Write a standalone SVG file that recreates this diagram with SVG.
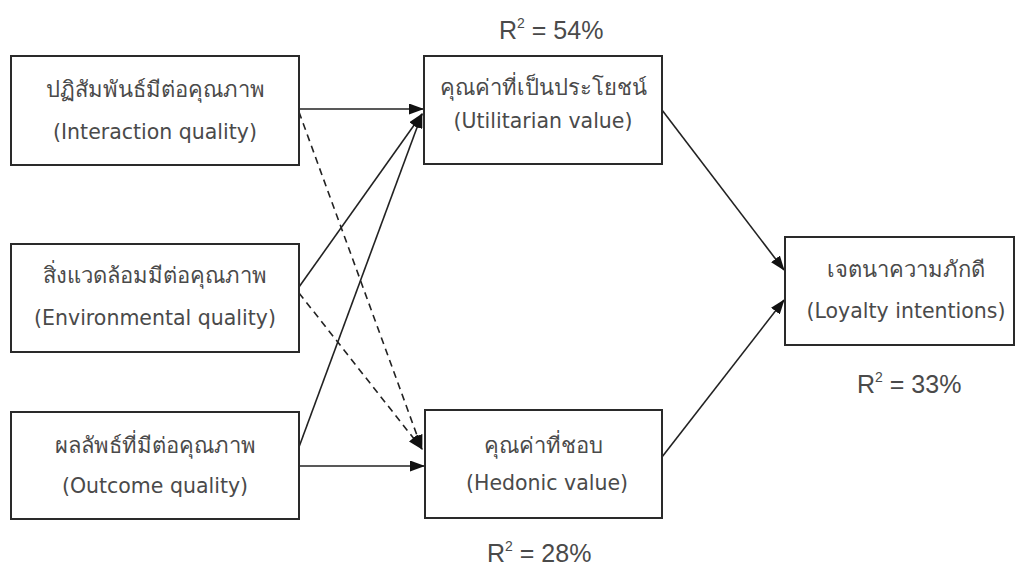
<svg xmlns="http://www.w3.org/2000/svg" width="1022" height="567" viewBox="0 0 1022 567">
<style>
.box{fill:#fff;stroke:#2a2a2a;stroke-width:2}
.t{font-family:"DejaVu Sans","Noto Sans",sans-serif;font-size:20.5px;fill:#4a4a4a;text-anchor:middle}
.th{font-size:22px}
.r{font-family:"Liberation Sans",Arial,sans-serif;font-size:25px;fill:#4a4a4a}
.sup{font-size:14px}
.ln{stroke:#222;stroke-width:1.6;fill:none;marker-end:url(#ah)}
.dash{stroke-dasharray:7,5}
</style>
<defs>
<marker id="ah" markerUnits="userSpaceOnUse" markerWidth="15" markerHeight="11" refX="14" refY="5.5" orient="auto">
<path d="M0,0 L15,5.5 L0,11 z" fill="#111"/>
</marker>
</defs>
<rect width="1022" height="567" fill="#fff"/>
<g id="connectors">
<line class="ln" x1="299" y1="109" x2="423" y2="109"/>
<line class="ln" x1="299" y1="287" x2="422" y2="114"/>
<line class="ln" x1="299" y1="447" x2="422" y2="114"/>
<line class="ln dash" x1="299" y1="112" x2="422" y2="449"/>
<line class="ln dash" x1="299" y1="293" x2="422" y2="449"/>
<line class="ln" x1="299" y1="466" x2="424" y2="466"/>
<line class="ln" x1="662" y1="110" x2="784" y2="270"/>
<line class="ln" x1="662" y1="457" x2="784" y2="300"/>
</g>
<g id="interaction">
<rect class="box" x="11" y="56" width="288" height="109"/>
<text class="t th" x="155" y="97">ปฏิสัมพันธ์มีต่อคุณภาพ</text>
<text class="t" x="155" y="139">(Interaction quality)</text>
</g>
<g id="environmental">
<rect class="box" x="11" y="244" width="288" height="108"/>
<text class="t th" x="155" y="283">สิ่งแวดล้อมมีต่อคุณภาพ</text>
<text class="t" x="155" y="325">(Environmental quality)</text>
</g>
<g id="outcome">
<rect class="box" x="11" y="412" width="288" height="107"/>
<text class="t th" x="155" y="453">ผลลัพธ์ที่มีต่อคุณภาพ</text>
<text class="t" x="155" y="493">(Outcome quality)</text>
</g>
<g id="utilitarian">
<rect class="box" x="424" y="56" width="238" height="108"/>
<text class="t th" x="543" y="95">คุณค่าที่เป็นประโยชน์</text>
<text class="t" x="543" y="128">(Utilitarian value)</text>
<text class="r" x="499" y="39">R<tspan class="sup" dy="-11">2</tspan><tspan dy="11"> = 54%</tspan></text>
</g>
<g id="hedonic">
<rect class="box" x="425" y="410" width="237" height="108"/>
<text class="t th" x="543" y="453">คุณค่าที่ชอบ</text>
<text class="t" x="547" y="490">(Hedonic value)</text>
<text class="r" x="487" y="562">R<tspan class="sup" dy="-11">2</tspan><tspan dy="11"> = 28%</tspan></text>
</g>
<g id="loyalty">
<rect class="box" x="785" y="237" width="229" height="108"/>
<text class="t th" x="906" y="277">เจตนาความภักดี</text>
<text class="t" x="906" y="318">(Loyalty intentions)</text>
<text class="r" x="857" y="393">R<tspan class="sup" dy="-11">2</tspan><tspan dy="11"> = 33%</tspan></text>
</g>
</svg>
